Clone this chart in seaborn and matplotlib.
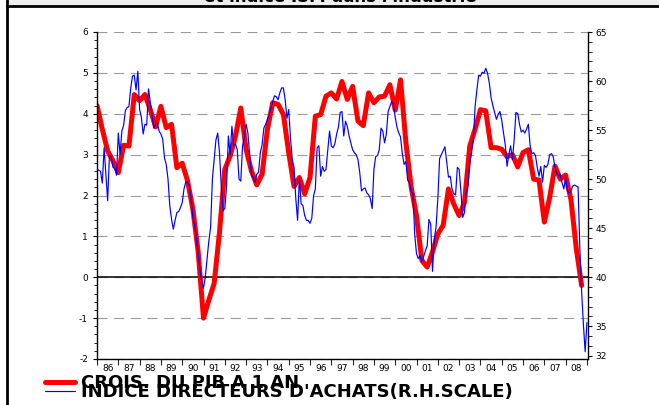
"""GDP growth (1 year) vs ISM purchasing managers index, 1986-2008."""

import matplotlib

matplotlib.use("Agg")

import matplotlib.pyplot as plt
import numpy as np
import pandas as pd
import seaborn as sns
from matplotlib.lines import Line2D
from matplotlib.patches import Rectangle
from matplotlib.ticker import FixedLocator, MultipleLocator, NullFormatter

# ── Data ──────────────────────────────────────────────────────────────────────

# Year-on-year real GDP growth (%), quarterly 1986Q1 - 2008Q4 (left scale)
GDP_YOY = [
    4.20, 3.62, 3.09, 2.85,  # 1986
    2.56, 3.23, 3.21, 4.47,  # 1987
    4.32, 4.47, 4.10, 3.68,  # 1988
    4.18, 3.66, 3.74, 2.68,  # 1989
    2.79, 2.36, 1.67, 0.62,  # 1990
    -1.00, -0.56, -0.15, 1.10,  # 1991
    2.64, 2.97, 3.45, 4.14,  # 1992
    3.13, 2.60, 2.26, 2.52,  # 1993
    3.62, 4.27, 4.23, 3.98,  # 1994
    3.05, 2.22, 2.44, 2.04,  # 1995
    2.44, 3.94, 3.98, 4.43,  # 1996
    4.51, 4.36, 4.79, 4.35,  # 1997
    4.67, 3.82, 3.71, 4.51,  # 1998
    4.27, 4.41, 4.43, 4.71,  # 1999
    4.09, 4.83, 3.30, 2.20,  # 2000
    1.50, 0.41, 0.25, 0.62,  # 2001
    1.06, 1.27, 2.16, 1.79,  # 2002
    1.51, 1.83, 3.21, 3.62,  # 2003
    4.10, 4.07, 3.17, 3.17,  # 2004
    3.13, 2.95, 3.00, 2.70,  # 2005
    3.05, 3.12, 2.40, 2.38,  # 2006
    1.35, 1.95, 2.72, 2.40,  # 2007
    2.50, 1.90, 0.70, -0.20,  # 2008
]

# ISM manufacturing index, monthly Jan 1986 - Jan 2009 (right scale)
ISM = [
    51.0, 50.9, 50.8, 49.6, 53.2, 50.5, 47.8, 52.4, 52.3, 51.2, 51.1, 50.4,  # 1986
    54.7, 52.5, 54.9, 55.5, 57.0, 57.3, 57.4, 59.3, 60.5, 60.6, 59.1, 61.0,  # 1987
    57.1, 56.3, 54.6, 55.6, 55.5, 59.2, 57.9, 56.6, 55.2, 55.6, 55.7, 54.9,  # 1988
    54.6, 54.1, 52.2, 51.5, 50.0, 47.3, 45.9, 44.9, 45.8, 46.6, 46.7, 47.1,  # 1989
    47.6, 49.0, 49.7, 49.7, 49.4, 48.0, 46.1, 45.4, 43.9, 42.4, 40.8, 39.6,  # 1990
    38.9, 40.0, 41.9, 43.7, 45.1, 50.0, 52.0, 54.0, 54.7, 52.7, 49.3, 46.8,  # 1991
    47.0, 49.3, 54.4, 52.5, 55.4, 53.4, 53.6, 53.0, 50.0, 49.8, 53.4, 54.2,  # 1992
    55.6, 54.7, 52.5, 50.5, 50.2, 49.7, 50.5, 50.7, 52.7, 53.5, 55.2, 55.6,  # 1993
    56.1, 56.5, 57.3, 57.9, 58.5, 58.4, 58.1, 58.8, 59.3, 59.3, 58.1, 56.2,  # 1994
    57.1, 54.2, 52.0, 51.2, 48.0, 45.8, 50.1, 47.5, 47.3, 46.3, 45.8, 45.8,  # 1995
    45.5, 46.0, 48.3, 49.0, 53.2, 53.4, 50.3, 51.3, 50.8, 51.0, 52.9, 54.9,  # 1996
    53.4, 53.2, 53.6, 54.6, 55.3, 56.8, 56.9, 54.4, 55.9, 55.4, 54.4, 53.7,  # 1997
    53.0, 52.7, 52.5, 52.0, 50.7, 48.8, 49.0, 49.1, 48.6, 48.4, 48.0, 47.0,  # 1998
    51.0, 52.3, 52.4, 53.0, 55.2, 54.9, 53.7, 54.6, 56.9, 57.4, 57.9, 57.6,  # 1999
    56.3, 55.3, 54.7, 54.3, 52.6, 51.5, 51.8, 49.9, 49.6, 48.8, 48.5, 44.3,  # 2000
    42.4, 41.9, 42.2, 41.6, 42.1, 42.7, 43.2, 45.9, 45.4, 40.6, 43.9, 45.1,  # 2001
    48.0, 52.1, 52.5, 52.9, 53.3, 51.7, 50.2, 50.3, 49.0, 48.5, 48.4, 51.2,  # 2002
    51.0, 48.8, 46.1, 46.6, 48.6, 49.3, 51.7, 52.7, 54.0, 57.4, 59.1, 60.6,  # 2003
    60.5, 60.9, 60.8, 61.3, 60.8, 59.8, 58.3, 57.5, 56.8, 56.1, 56.6, 56.9,  # 2004
    56.0, 54.7, 53.5, 51.3, 52.5, 53.4, 52.0, 54.0, 56.8, 56.7, 55.6, 54.8,  # 2005
    55.0, 54.7, 55.1, 55.6, 53.4, 52.6, 52.7, 52.4, 51.2, 50.3, 51.3, 49.7,  # 2006
    51.4, 51.2, 51.5, 52.5, 52.6, 52.3, 51.2, 50.6, 50.3, 50.5, 49.6, 49.0,  # 2007
    50.2, 48.8, 48.6, 48.8, 49.3, 49.4, 49.3, 49.2, 43.0, 38.6, 35.2, 32.4,  # 2008
    35.4,  # 2009
]

YEAR_LABELS = ["86", "87", "88", "89", "90", "91", "92", "93", "94", "95", "96", "97",
               "98", "99", "00", "01", "02", "03", "04", "05", "06", "07", "08"]
LEFT_TICKS = [-2, -1, 0, 1, 2, 3, 4, 5, 6]
RIGHT_TICKS = [32, 35, 40, 45, 50, 55, 60, 65]

GDP_LABEL = "CROIS. DU PIB A 1 AN"
ISM_LABEL = "INDICE DIRECTEURS D'ACHATS(R.H.SCALE)"
TITLE = "et indice ISM dans l'industrie"

RED = "#ff0000"
BLUE = "#0000ff"
W, H = 659, 405


def decimal_time(periods: pd.PeriodIndex) -> np.ndarray:
    start = periods.start_time
    return (start.year + (start.month - 1) / 12).to_numpy()


# ── Figure ────────────────────────────────────────────────────────────────────

sns.set_theme(style="ticks")
plt.rcParams["font.family"] = ["DejaVu Sans"]
plt.rcParams["axes.unicode_minus"] = False

gdp = pd.DataFrame({"gdp": GDP_YOY})
gdp["t"] = decimal_time(pd.period_range("1986Q1", periods=len(GDP_YOY), freq="Q"))
ism = pd.DataFrame({"ism": ISM})
ism["t"] = decimal_time(pd.period_range("1986-01", periods=len(ISM), freq="M"))

fig = plt.figure(figsize=(W / 100, H / 100), dpi=100)
fig.patch.set_facecolor("white")
ax = fig.add_axes([97 / W, 1 - 359 / H, (588 - 97) / W, (359 - 32) / H])
ax2 = ax.twinx()

sns.lineplot(data=gdp, x="t", y="gdp", ax=ax, color=RED, linewidth=3.6,
             label=GDP_LABEL, legend=False)
sns.lineplot(data=ism, x="t", y="ism", ax=ax2, color=BLUE, linewidth=0.85,
             label=ISM_LABEL, legend=False)

# left scale
ax.set_ylim(-2, 6)
ax.set_yticks(LEFT_TICKS)
ax.yaxis.set_minor_locator(MultipleLocator(0.2))
ax.grid(axis="y", color="#9a9a9a", linewidth=0.8, linestyle=(0, (9, 6)))
ax.axhline(0, color="black", linewidth=1.1, zorder=1.5)

# right scale: 40 lines up with 0, 65 with 6
ax2.set_ylim(40 - 2 * 25 / 6, 65)
ax2.set_yticks(RIGHT_TICKS)
ax2.yaxis.set_minor_locator(MultipleLocator(1))

# years: tick marks on boundaries, labels in the middle
ax.set_xlim(1986, 2009.05)
ax.xaxis.set_major_locator(FixedLocator(np.arange(1986, 2010)))
ax.xaxis.set_major_formatter(NullFormatter())
ax.xaxis.set_minor_locator(FixedLocator(np.arange(1986, 2009) + 0.5))
ax.set_xticklabels(YEAR_LABELS, minor=True)

for a in (ax, ax2):
    a.set_xlabel("")
    a.set_ylabel("")
    a.set_facecolor("none")
    for side in a.spines:
        a.spines[side].set_linewidth(1.0)
        a.spines[side].set_color("black")
ax.spines["top"].set_visible(False)
ax.spines["right"].set_visible(False)
ax2.spines["top"].set_visible(False)
ax2.spines["left"].set_visible(False)
ax2.spines["bottom"].set_visible(False)

ax.tick_params(axis="y", which="major", direction="out", length=3, width=0.8,
               labelsize=6.5, pad=3.5, colors="black")
ax.tick_params(axis="y", which="minor", direction="out", length=2, width=0.7)
ax.tick_params(axis="x", which="major", direction="out", length=4, width=0.8)
ax.tick_params(axis="x", which="minor", length=0, labelsize=6.5, pad=3.5,
               labelcolor="black")
ax2.tick_params(axis="y", which="major", direction="out", length=3, width=0.8,
                labelsize=6.5, pad=2.5, colors="black")
ax2.tick_params(axis="y", which="minor", direction="out", length=3, width=0.7)

# ── Legend, frame and (cropped) title ─────────────────────────────────────────

handles = ax.get_lines()[:1] + ax2.get_lines()[:1]
fig.legend(handles=handles, labels=[GDP_LABEL, ISM_LABEL], loc="lower left",
           bbox_to_anchor=(45 / W, 4 / H), frameon=False, borderpad=0,
           borderaxespad=0, handlelength=1.65, handletextpad=0.33,
           labelspacing=-0.5, labelcolor="black",
           prop={"weight": "bold", "size": 13})

fig.add_artist(Rectangle((7 / W, 1 - 6 / H), 1, 6 / H, transform=fig.transFigure,
                         facecolor="#eeeeee", edgecolor="none"))
fig.add_artist(Line2D([7 / W, 1], [1 - 6 / H, 1 - 6 / H], transform=fig.transFigure,
                      color="black", linewidth=2.0))
fig.add_artist(Line2D([7 / W, 7 / W], [0, 1], transform=fig.transFigure,
                      color="black", linewidth=2.0))
fig.text(340 / W, 1 - 2 / H, TITLE, ha="center", va="baseline",
         fontsize=12, fontweight="bold", color="black")

fig.savefig("out.png", dpi=100)
